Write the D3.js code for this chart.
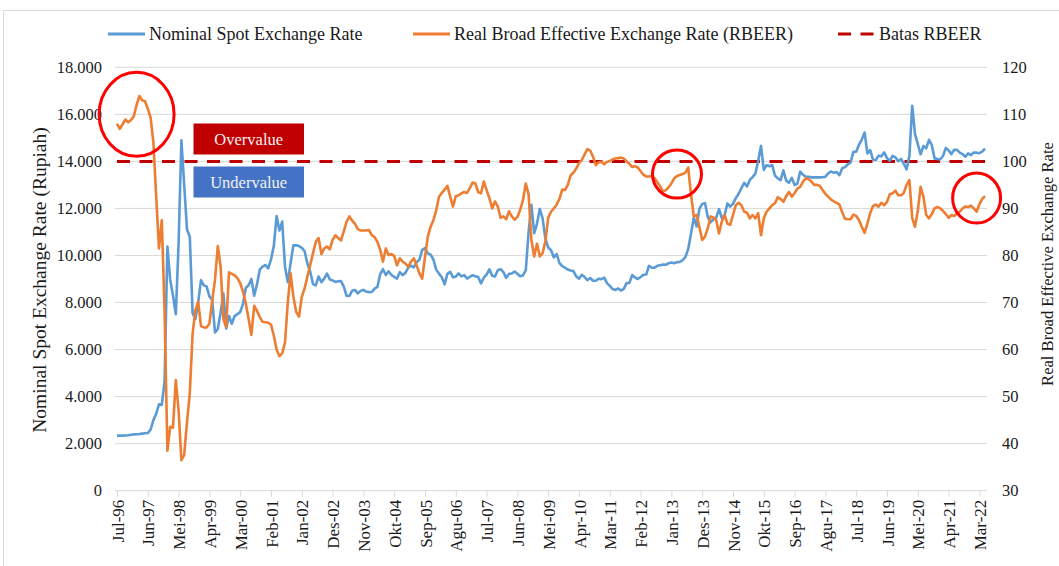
<!DOCTYPE html>
<html>
<head>
<meta charset="utf-8">
<style>
body { margin: 0; background: #fff; }
svg { font-family: "Palatino Linotype", "Book Antiqua", Palatino, "Liberation Serif", serif; }
.grid line { stroke: #d9d9d9; stroke-width: 1; }
.axis path, .axis line { stroke: #d9d9d9; }
.axis text { fill: #1a1a1a; }
.line { fill: none; stroke-width: 2.6px; stroke-linejoin: round; }
</style>
</head>
<body>
<svg width="1059" height="566"></svg>
<script src="https://cdn.jsdelivr.net/npm/d3@7"></script>
<script>

// month names (Indonesian) and start of the series
var monthNames = ["Jan", "Feb", "Mar", "Apr", "Mei", "Jun", "Jul", "Agu", "Sep", "Okt", "Nov", "Des"];
var startYear = 1996, startMonth = 6, monthCount = 311;

var tickLabels = ["Jul-96", "Jun-97", "Mei-98", "Apr-99", "Mar-00", "Feb-01", "Jan-02", "Des-02",
    "Nov-03", "Okt-04", "Sep-05", "Agu-06", "Jul-07", "Jun-08", "Mei-09", "Apr-10", "Mar-11",
    "Feb-12", "Jan-13", "Des-13", "Nov-14", "Okt-15", "Sep-16", "Agu-17", "Jul-18", "Jun-19",
    "Mei-20", "Apr-21", "Mar-22"];

var leftTicks = [0, 2000, 4000, 6000, 8000, 10000, 12000, 14000, 16000, 18000];
var rightTicks = [30, 40, 50, 60, 70, 80, 90, 100, 110, 120];

// Nominal spot exchange rate (Rupiah per USD), Jul-96 .. Mei-22
var nominal = [
    2340, 2340, 2340, 2350, 2360, 2380,
    2395, 2400, 2410, 2425, 2440, 2450, 2600, 3000, 3275, 3670, 3650, 4650,
    10375, 8960, 8300, 7500, 10525, 14900, 13000, 11100, 10800, 7550, 7300, 8025,
    8950, 8730, 8685, 8260, 8105, 6726, 6875, 7565, 8386, 6900, 7425, 7100,
    7425, 7505, 7590, 7945, 8620, 8735, 9003, 8290, 8780, 9395, 9530, 9595,
    9450, 9835, 10400, 11675, 11058, 11440, 9525, 8865, 9675, 10435, 10430, 10400,
    10320, 10189, 9655, 9316, 8785, 8730, 9108, 8867, 9015, 9233, 8976, 8940,
    8876, 8905, 8908, 8675, 8279, 8285, 8505, 8535, 8389, 8495, 8537, 8465,
    8441, 8447, 8587, 8661, 9210, 9415, 9168, 9328, 9170, 9090, 9018, 9290,
    9165, 9260, 9480, 9570, 9495, 9713, 9819, 10240, 10310, 10090, 10035, 9830,
    9395, 9230, 9075, 8775, 9220, 9300, 9070, 9100, 9235, 9110, 9165, 9020,
    9090, 9160, 9118, 9083, 8815, 9054, 9186, 9410, 9137, 9103, 9376, 9419,
    9291, 9051, 9217, 9234, 9318, 9225, 9118, 9153, 9378, 10995, 12151, 10950,
    11355, 11980, 11575, 10713, 10340, 10225, 9920, 10060, 9681, 9545, 9480, 9400,
    9365, 9335, 9115, 9012, 9180, 9083, 8952, 9041, 8924, 8928, 9013, 8991,
    9057, 8823, 8709, 8574, 8537, 8597, 8508, 8578, 8823, 8835, 9170, 9068,
    9000, 9085, 9180, 9190, 9565, 9480, 9485, 9560, 9588, 9615, 9605, 9670,
    9698, 9667, 9719, 9722, 9802, 9929, 10278, 10924, 11613, 11234, 11977, 12189,
    12226, 11634, 11404, 11532, 11611, 11969, 11591, 11717, 12212, 12082, 12196, 12440,
    12625, 12863, 13084, 12937, 13211, 13332, 13481, 14027, 14657, 13639, 13840, 13795,
    13846, 13395, 13276, 13204, 13615, 13180, 13094, 13300, 12998, 13051, 13563, 13436,
    13343, 13347, 13321, 13327, 13321, 13319, 13323, 13351, 13492, 13572, 13514, 13548,
    13413, 13707, 13756, 13877, 13951, 14404, 14413, 14711, 14929, 15227, 14339, 14481,
    14072, 14062, 14244, 14215, 14385, 14141, 14026, 14237, 14174, 14008, 14102, 13901,
    13662, 14234, 16367, 15157, 14733, 14302, 14653, 14554, 14918, 14690, 14128, 14105,
    14084, 14229, 14572, 14468, 14310, 14496, 14491, 14374, 14307, 14199, 14340, 14269,
    14381, 14371, 14349, 14418, 14544
];

// Real broad effective exchange rate index, Jul-96 .. Mei-22
var rbeer = [
    108.0, 106.9, 107.9, 108.9, 108.3, 108.8,
    109.6, 112.0, 113.9, 113.0, 112.8, 111.2, 109.3, 104.0, 92.5, 81.5, 87.5, 68.0,
    38.5, 43.6, 43.4, 53.5, 47.0, 36.5, 37.6, 44.5, 50.8, 63.4, 68.4, 70.2,
    65.0, 64.7, 64.7, 65.5, 70.4, 74.8, 82.0, 77.6, 66.5, 64.8, 76.4, 76.1,
    75.8, 75.2, 74.1, 72.3, 69.8, 66.5, 63.1, 69.3, 68.2, 66.9, 65.9, 65.8,
    65.7, 65.3, 63.0, 60.0, 58.6, 59.2, 61.5, 70.0, 76.2, 71.2, 68.0, 67.0,
    71.2, 73.0, 75.5, 78.0, 80.5, 82.9, 83.7, 80.3, 81.5, 81.9, 81.3, 83.3,
    84.3, 83.7, 83.2, 85.1, 87.2, 88.3, 87.4, 86.7, 85.6, 85.3, 85.3, 85.3,
    85.4, 84.3, 83.9, 82.9, 81.2, 78.7, 81.5, 80.1, 80.3, 79.9, 77.9, 79.4,
    78.7, 78.3, 77.6, 78.7, 79.4, 77.9, 76.2, 75.1, 79.7, 84.0, 86.1, 87.5,
    89.6, 92.5, 93.3, 94.0, 94.8, 92.5, 90.4, 92.6, 92.8, 93.2, 93.5, 93.3,
    94.3, 95.5, 95.3, 93.5, 93.2, 95.7, 93.9, 92.2, 90.0, 91.5, 90.4, 88.0,
    88.3, 87.7, 89.4, 88.3, 87.6, 88.2, 89.7, 91.8, 95.3, 93.0, 83.3, 79.8,
    82.5, 79.8, 80.5, 83.0, 88.0, 89.3, 90.0, 90.8, 92.0, 94.0, 93.9, 95.0,
    97.0, 97.6, 98.5, 99.6, 100.3, 101.5, 102.6, 102.3, 101.0, 99.2, 99.8, 99.9,
    99.4, 99.9, 100.1, 100.4, 100.6, 100.7, 100.8, 100.6, 100.0, 99.5, 98.8, 99.0,
    98.7, 97.9, 97.2, 96.8, 96.8, 96.9, 96.4, 95.5, 94.7, 93.6, 93.9, 94.5,
    95.3, 96.4, 96.9, 97.1, 97.3, 97.6, 98.7, 93.0, 88.3, 88.6, 86.0, 83.3,
    84.0, 85.8, 88.3, 88.1, 87.5, 84.7, 87.2, 88.6, 86.8, 86.5, 88.6, 90.7,
    91.2, 90.7, 89.3, 89.1, 87.9, 88.6, 87.9, 89.0, 84.3, 87.9, 89.3, 90.0,
    90.7, 91.1, 92.4, 92.0, 91.4, 92.6, 93.5, 92.5, 93.3, 94.2, 94.6, 95.7,
    96.4, 96.2, 95.7, 95.0, 95.0, 94.8, 93.9, 93.1, 92.5, 91.9, 91.5, 91.2,
    90.8, 89.2, 87.8, 87.7, 87.7, 88.7, 88.4, 87.5, 86.1, 84.8, 86.8, 89.0,
    90.5, 90.8, 90.4, 91.2, 90.7, 91.4, 93.0, 93.2, 93.8, 92.8, 92.8, 93.3,
    95.0, 96.0, 88.0, 86.1, 89.5, 94.6, 92.5, 88.6, 87.9, 88.8, 90.0, 90.3,
    90.0, 89.5, 88.8, 88.0, 88.6, 88.4, 88.9, 89.3, 90.0, 90.4, 90.3, 90.6,
    90.0, 89.3, 90.9, 92.0, 92.6
];

var rbeerLimit = 100;

// highlighted spots: category + RBEER level of the circle centre
var highlights = [
    {month: "Feb-97", level: 110.0, rx: 37.5, ry: 42},
    {month: "Mar-13", level: 97.3, rx: 24.5, ry: 24},
    {month: "Feb-22", level: 92.2, rx: 24, ry: 25}
];

// month categories built from the start month
var categories = [];
for (var k = 0; k < monthCount; k++) {
    var m = (startMonth + k) % 12,
        yr = startYear + Math.floor((startMonth + k) / 12);
    categories.push(monthNames[m] + "-" + String(yr % 100).padStart(2, "0"));
}

var svg = d3.select("svg"),
    plotLeft = 117, plotRight = 985, plotTop = 67.3, plotBottom = 490.7;

var x = d3.scalePoint().domain(categories).range([plotLeft, plotRight]);
var yLeft = d3.scaleLinear().domain([0, 18000]).range([plotBottom, plotTop]);
var yRight = d3.scaleLinear().domain([30, 120]).range([plotBottom, plotTop]);

var fmt = function(d) { return d3.format(",")(d).replace(/,/g, "."); };

// chart border
svg.append("rect")
    .attr("x", 3.5).attr("y", 10.5).attr("width", 1100).attr("height", 600)
    .attr("fill", "none").attr("stroke", "#d9d9d9");

// gridlines
svg.append("g").attr("class", "grid")
    .selectAll("line").data(leftTicks.slice(1)).enter().append("line")
    .attr("x1", plotLeft - 2).attr("x2", plotRight + 2)
    .attr("y1", function(d) { return yLeft(d); })
    .attr("y2", function(d) { return yLeft(d); });

// axes
var xAxis = svg.append("g").attr("class", "axis")
    .attr("transform", "translate(0," + plotBottom + ")")
    .call(d3.axisBottom(x).tickValues(tickLabels).tickSize(6).tickSizeOuter(0));
xAxis.attr("font-family", null).attr("font-size", null);
xAxis.select(".domain").attr("d", "M" + (plotLeft - 2) + ",0H" + (plotRight + 2));
xAxis.selectAll("text")
    .attr("transform", "rotate(-90)")
    .attr("text-anchor", "end")
    .attr("x", -9).attr("y", 0).attr("dy", "0.36em")
    .style("font-size", "17px");

var yAxisL = svg.append("g").attr("class", "axis")
    .attr("transform", "translate(" + (plotLeft - 12) + ",0)")
    .call(d3.axisLeft(yLeft).tickValues(leftTicks).tickFormat(fmt).tickSize(0));
yAxisL.attr("font-family", null).attr("font-size", null);
yAxisL.select(".domain").remove();
yAxisL.selectAll("text").style("font-size", "16.5px").attr("x", -3);

var yAxisR = svg.append("g").attr("class", "axis")
    .attr("transform", "translate(" + (plotRight + 14) + ",0)")
    .call(d3.axisRight(yRight).tickValues(rightTicks).tickSize(0));
yAxisR.attr("font-family", null).attr("font-size", null);
yAxisR.select(".domain").remove();
yAxisR.selectAll("text").style("font-size", "16.5px").attr("x", 3);

// axis titles
svg.append("text")
    .attr("transform", "translate(46,280) rotate(-90)")
    .attr("text-anchor", "middle")
    .style("font-size", "19.5px").attr("fill", "#1a1a1a")
    .text("Nominal Spot Exchange Rate (Rupiah)");
svg.append("text")
    .attr("transform", "translate(1053,264) rotate(-90)")
    .attr("text-anchor", "middle")
    .style("font-size", "16.6px").attr("fill", "#1a1a1a")
    .text("Real Broad Effective Exchange Rate");

// RBEER limit line
svg.append("line")
    .attr("x1", plotLeft).attr("x2", plotRight + 2)
    .attr("y1", yRight(rbeerLimit)).attr("y2", yRight(rbeerLimit))
    .attr("stroke", "#c00000").attr("stroke-width", 3)
    .attr("stroke-dasharray", "13,9.5");

// series lines
var lineNominal = d3.line()
    .x(function(d, i) { return x(categories[i]); })
    .y(function(d) { return yLeft(d); });
var lineRbeer = d3.line()
    .x(function(d, i) { return x(categories[i]); })
    .y(function(d) { return yRight(d); });

svg.append("path").attr("class", "line")
    .attr("stroke", "#5b9bd5").attr("d", lineNominal(nominal));
svg.append("path").attr("class", "line")
    .attr("stroke", "#ed7d31").attr("d", lineRbeer(rbeer));

// over / under value labels
var boxes = [
    {label: "Overvalue", fill: "#c00000", top: 123.5},
    {label: "Undervalue", fill: "#4472c4", top: 166.5}
];
var boxG = svg.append("g").selectAll("g").data(boxes).enter().append("g");
boxG.append("rect")
    .attr("x", 193.5).attr("y", function(d) { return d.top; })
    .attr("width", 110.5).attr("height", 31)
    .attr("fill", function(d) { return d.fill; });
boxG.append("text")
    .attr("x", 248.7).attr("y", function(d) { return d.top + 21; })
    .attr("text-anchor", "middle")
    .attr("fill", "#f2f2f2").style("font-size", "16.5px")
    .text(function(d) { return d.label; });

// red circles
svg.append("g").selectAll("ellipse").data(highlights).enter().append("ellipse")
    .attr("cx", function(d) { return x(d.month); })
    .attr("cy", function(d) { return yRight(d.level); })
    .attr("rx", function(d) { return d.rx; })
    .attr("ry", function(d) { return d.ry; })
    .attr("fill", "none").attr("stroke", "#ff0000").attr("stroke-width", 3);

// legend
var legend = [
    {label: "Nominal Spot Exchange Rate", color: "#5b9bd5", x: 108, dash: null},
    {label: "Real Broad Effective Exchange Rate (RBEER)", color: "#ed7d31", x: 413, dash: null},
    {label: "Batas RBEER", color: "#c00000", x: 838, dash: "13,9.5"}
];
var lg = svg.append("g").selectAll("g").data(legend).enter().append("g")
    .attr("transform", function(d) { return "translate(" + d.x + ",34)"; });
lg.append("line")
    .attr("x1", 0).attr("x2", 37)
    .attr("stroke", function(d) { return d.color; })
    .attr("stroke-width", 3)
    .attr("stroke-dasharray", function(d) { return d.dash; });
lg.append("text")
    .attr("x", 41).attr("dy", "0.34em")
    .style("font-size", "18px").attr("fill", "#1a1a1a")
    .text(function(d) { return d.label; });

</script>
</body>
</html>
